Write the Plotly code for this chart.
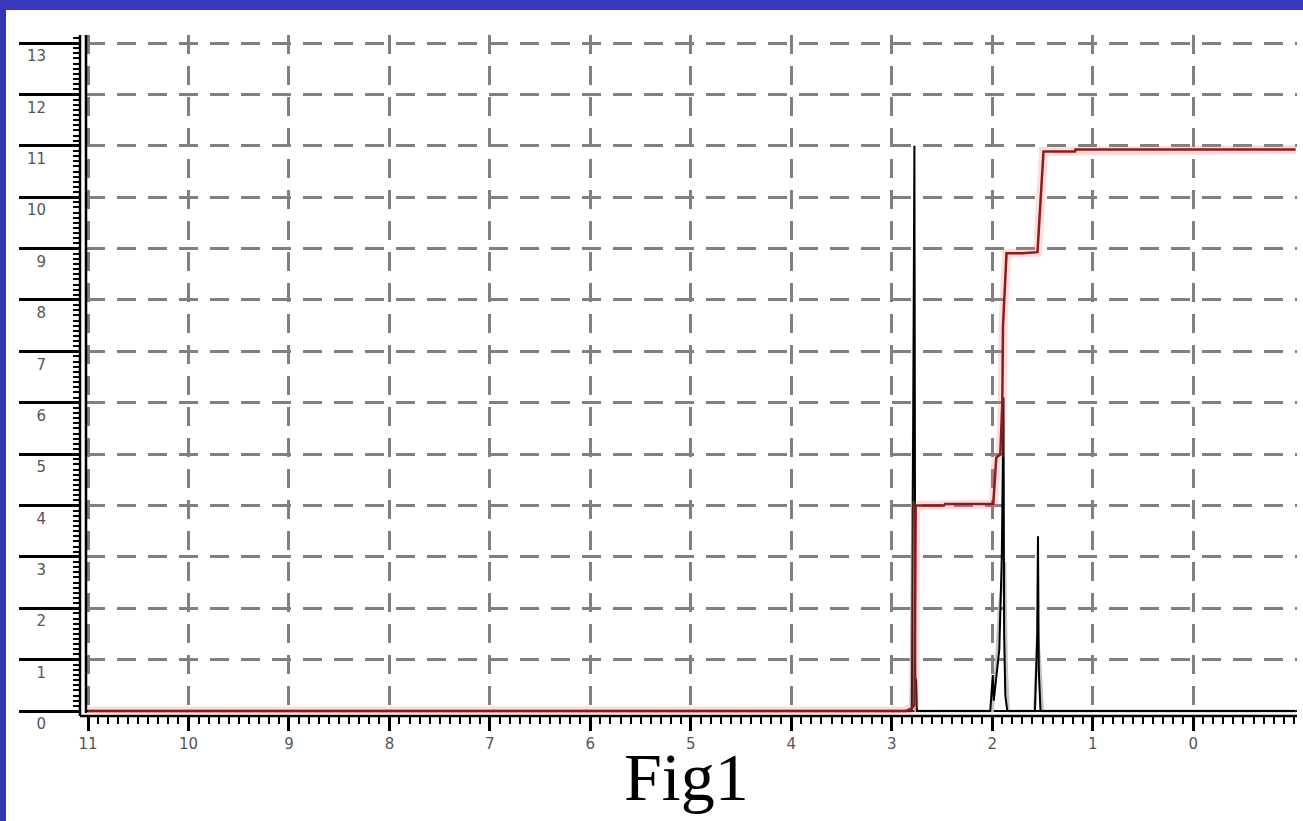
import plotly.graph_objects as go

# ---- data ----
x_black = [11.0, 2.80, 2.775, 2.766, 2.758, 2.75, 2.02, 1.995, 1.985, 1.97, 1.93,
           1.905, 1.893, 1.888, 1.882, 1.87, 1.85, 1.575, 1.553, 1.545, 1.537, 1.52, -1.02]
y_black = [0, 0, 11.0, 0.65, 0.6, 0, 0, 0.7, 0.2, 0.5, 1.2,
           3.0, 5.0, 6.1, 1.5, 0.3, 0, 0, 1.5, 3.4, 0.8, 0, 0]

x_gray = [11.0, 2.81, 2.785, 2.77, 2.76, 2.00, 1.96, 1.93, 1.875, 1.86, 1.84,
          1.58, 1.56, 1.545, 1.525, 1.50, -1.02]
y_gray = [0, 0, 5.4, 0.3, 0, 0, 0.9, 2.0, 2.9, 0.9, 0,
          0, 0.9, 1.4, 0.9, 0, 0]

x_red = [11.0, 2.86, 2.80, 2.775, 2.762, 2.74, 2.48, 2.47, 1.99, 1.96, 1.92,
         1.90, 1.893, 1.858, 1.70, 1.55, 1.49, 1.30, 1.175, 1.172, -1.02]
y_red = [0, 0, 0.05, 0.12, 4.0, 4.0, 4.0, 4.03, 4.03, 4.93, 5.0,
         6.0, 7.5, 8.91, 8.91, 8.93, 10.89, 10.89, 10.89, 10.93, 10.93]

x_ticks = [11, 10, 9, 8, 7, 6, 5, 4, 3, 2, 1, 0]
y_ticks = list(range(0, 14))
y_labels = [str(v) for v in y_ticks]
title_text = "Fig1"

# ---- layout geometry ----
W, H = 1303, 821
ML, MR, MT, MB = 80, 6, 35, 105
PW = W - ML - MR
PH = H - MT - MB


def px_x(px):
    return (px - ML) / PW


def px_y(py):
    return (H - MB - py) / PH


fig = go.Figure()
fig.add_trace(go.Scatter(x=x_gray, y=y_gray, mode="lines",
                         line=dict(color="#c4c4c4", width=3), hoverinfo="skip"))
fig.add_trace(go.Scatter(x=x_black, y=y_black, mode="lines",
                         line=dict(color="black", width=2)))
fig.add_trace(go.Scatter(x=x_red, y=y_red, mode="lines",
                         line=dict(color="rgba(255,120,120,0.25)", width=9),
                         hoverinfo="skip"))
fig.add_trace(go.Scatter(x=x_red, y=y_red, mode="lines",
                         line=dict(color="#8c1c1c", width=2.5)))

grid = dict(showgrid=True, gridcolor="#808080", gridwidth=2.5, griddash="19px,12px")

fig.update_layout(
    width=W, height=H,
    margin=dict(l=ML, r=MR, t=MT, b=MB, pad=0, autoexpand=False),
    paper_bgcolor="white", plot_bgcolor="white",
    showlegend=False,
    xaxis=dict(
        automargin=False,
        range=[11 + 2 / 100.64, 11 - 1211 / 100.64],
        domain=[6 / PW, 1], anchor="free", position=0,
        tickmode="array", tickvals=x_ticks, ticktext=[str(v) for v in x_ticks],
        ticks="outside", ticklen=14, tickwidth=3, tickcolor="black",
        minor=dict(tickmode="linear", tick0=0, dtick=0.1, ticks="outside",
                   ticklen=7, tickwidth=2, tickcolor="black", showgrid=False),
        tickfont=dict(family="DejaVu Sans", size=15, color="#555555"),
        zeroline=False, showline=False, **grid,
    ),
    yaxis=dict(
        automargin=False,
        range=[-2 / 51.38, 676 / 51.38],
        domain=[3 / PH, 1], anchor="free", position=0,
        tickmode="array", tickvals=y_ticks, ticktext=y_labels,
        ticks="outside", ticklen=61, tickwidth=3, tickcolor="black",
        minor=dict(tickmode="linear", tick0=0, dtick=0.1, ticks="outside",
                   ticklen=7, tickwidth=2, tickcolor="black", showgrid=False),
        tickfont=dict(family="DejaVu Sans", size=15, color="#555555"),
        ticklabelstandoff=-30, ticklabelshift=13,
        zeroline=True, zerolinecolor="black", zerolinewidth=2,
        showline=False, **grid,
    ),
    yaxis2=dict(
        automargin=False,
        range=[-2 / 51.38, 676 / 51.38], overlaying="y",
        domain=[3 / PH, 1], anchor="free", position=0,
        tickmode="linear", tick0=0.5, dtick=1,
        ticks="outside", ticklen=13, tickwidth=2, tickcolor="black",
        showticklabels=False, showgrid=False, zeroline=False, showline=False,
    ),
    shapes=[
        dict(type="rect", xref="paper", yref="paper",
             x0=px_x(0), x1=px_x(6), y0=px_y(H), y1=px_y(0),
             fillcolor="#3434b4", line=dict(width=0), layer="above"),
        dict(type="rect", xref="paper", yref="paper",
             x0=px_x(0), x1=px_x(W), y0=px_y(10), y1=px_y(0),
             fillcolor="#3838b8", line=dict(width=0), layer="above"),
        dict(type="line", xref="paper", yref="paper", x0=0, x1=0, y0=0, y1=1,
             line=dict(color="black", width=2.5), layer="above"),
        dict(type="line", xref="paper", yref="paper", x0=0, x1=1, y0=0, y1=0,
             line=dict(color="black", width=2.5), layer="above"),
        dict(type="line", xref="x domain", yref="y domain", x0=0, x1=0, y0=0, y1=1,
             line=dict(color="black", width=2.5), layer="above"),
    ],
    annotations=[
        dict(text=title_text, xref="paper", yref="paper", x=px_x(686), y=px_y(777),
             xanchor="center", yanchor="middle", showarrow=False,
             font=dict(family="Liberation Serif", size=68, color="black")),
    ],
)

fig.write_html("out.html", config={"displayModeBar": False},
               post_script="document.body.style.margin='0';")
